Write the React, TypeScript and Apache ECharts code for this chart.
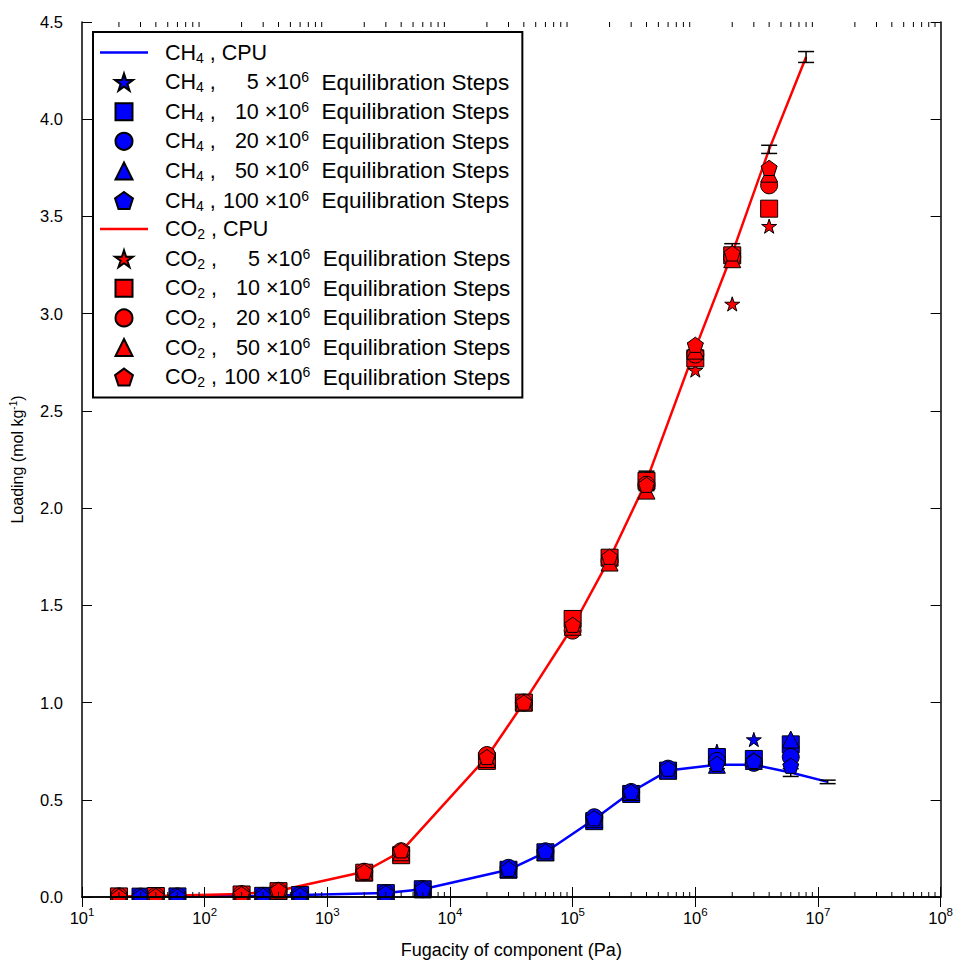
import React, { useEffect, useRef } from 'react';
import * as echarts from 'echarts';

const FONT = 'Liberation Sans';

// ---------- data ----------
const ch4Pressure = [30, 60, 300, 600, 3000, 6000, 30000, 60000, 150000, 300000, 600000, 1500000, 3000000, 6000000];
const ch4CpuPressure = [30, 60, 300, 600, 3000, 6000, 30000, 60000, 150000, 300000, 600000, 1500000, 3000000, 6000000, 12000000];
const ch4Cpu = [0.002, 0.003, 0.006, 0.01, 0.02, 0.04, 0.14, 0.23, 0.4, 0.54, 0.65, 0.68, 0.68, 0.64, 0.592];
const ch4CpuErr = [0.001, 0.001, 0.002, 0.002, 0.003, 0.004, 0.006, 0.008, 0.01, 0.012, 0.015, 0.02, 0.02, 0.02, 0.009];
const ch4Steps5 = [0.002, 0.003, 0.006, 0.01, 0.02, 0.04, 0.145, 0.235, 0.41, 0.54, 0.66, 0.75, 0.81, 0.76];
const ch4Steps10 = [0.002, 0.003, 0.006, 0.01, 0.02, 0.04, 0.14, 0.23, 0.39, 0.53, 0.65, 0.72, 0.71, 0.785];
const ch4Steps20 = [0.002, 0.003, 0.006, 0.01, 0.02, 0.04, 0.15, 0.235, 0.41, 0.54, 0.66, 0.7, 0.69, 0.72];
const ch4Steps50 = [0.002, 0.003, 0.006, 0.01, 0.02, 0.04, 0.145, 0.23, 0.4, 0.54, 0.65, 0.68, 0.7, 0.81];
const ch4Steps100 = [0.002, 0.003, 0.006, 0.01, 0.02, 0.04, 0.145, 0.235, 0.405, 0.54, 0.66, 0.685, 0.7, 0.675];

const co2Pressure = [20, 40, 200, 400, 2000, 4000, 20000, 40000, 100000, 200000, 400000, 1000000, 2000000, 4000000];
const co2CpuPressure = [20, 40, 200, 400, 2000, 4000, 20000, 40000, 100000, 200000, 400000, 1000000, 2000000, 4000000, 8000000];
const co2Cpu = [0.003, 0.005, 0.015, 0.032, 0.13, 0.235, 0.72, 1.0, 1.39, 1.74, 2.14, 2.82, 3.31, 3.845, 4.32];
const co2CpuErr = [0.001, 0.001, 0.002, 0.003, 0.005, 0.008, 0.015, 0.02, 0.025, 0.03, 0.05, 0.03, 0.05, 0.021, 0.028];
const co2Steps5 = [0.003, 0.005, 0.015, 0.032, 0.13, 0.235, 0.72, 1.0, 1.39, 1.75, 2.13, 2.71, 3.05, 3.45];
const co2Steps10 = [0.003, 0.005, 0.013, 0.03, 0.125, 0.215, 0.7, 1.0, 1.43, 1.745, 2.14, 2.77, 3.3, 3.54];
const co2Steps20 = [0.003, 0.005, 0.015, 0.032, 0.13, 0.235, 0.73, 1.0, 1.37, 1.73, 2.12, 2.79, 3.29, 3.66];
const co2Steps50 = [0.003, 0.005, 0.015, 0.032, 0.13, 0.23, 0.71, 1.0, 1.39, 1.72, 2.09, 2.81, 3.28, 3.72];
const co2Steps100 = [0.003, 0.005, 0.015, 0.035, 0.13, 0.24, 0.72, 1.0, 1.4, 1.75, 2.12, 2.84, 3.31, 3.75];

const stepLabels = ['5', '10', '20', '50', '100'];
const xDecades = [10, 100, 1000, 10000, 100000, 1000000, 10000000];
const minorMultipliers = [2, 3, 4, 5, 6, 7, 8, 9];

// ---------- styling ----------
const SYM_STAR = 'path://M10,0L12.245,6.91L19.511,6.91L13.633,11.18L15.878,18.09L10,13.82L4.122,18.09L6.367,11.18L0.489,6.91L7.755,6.91Z';
const SYM_SQUARE = 'path://M0,0L10,0L10,10L0,10Z';
const SYM_TRI = 'path://M5,0L10,10L0,10Z';
const SYM_PENT = 'path://M10,0L19.511,6.91L15.878,18.09L4.122,18.09L0.489,6.91Z';
const SYM_LINE = 'path://M0,0L48,0L48,2.5L0,2.5Z';
const symbols = [SYM_STAR, SYM_SQUARE, 'circle', SYM_TRI, SYM_PENT];
const symbolSizes = [15, 17, 17, 17, 16];

export default function App() {
  const ref = useRef<HTMLDivElement>(null);

  useEffect(() => {
    if (!ref.current) return;
    const chart = echarts.init(ref.current, null, { renderer: 'svg' });

    const gases = [
      { key: 'CH4', sub: '4', base: 'CH', color: '#0000ff', p: ch4Pressure, cpuP: ch4CpuPressure, cpu: ch4Cpu, err: ch4CpuErr,
        steps: [ch4Steps5, ch4Steps10, ch4Steps20, ch4Steps50, ch4Steps100] },
      { key: 'CO2', sub: '2', base: 'CO', color: '#ff0000', p: co2Pressure, cpuP: co2CpuPressure, cpu: co2Cpu, err: co2CpuErr,
        steps: [co2Steps5, co2Steps10, co2Steps20, co2Steps50, co2Steps100] },
    ];

    const minorTicks: number[][] = [];
    xDecades.forEach((d) => minorMultipliers.forEach((m) => minorTicks.push([d * m, 0])));

    const series: any[] = [];
    const legendData: any[] = [];
    const legendText: Record<string, string> = {};

    gases.forEach((g) => {
      const lineName = g.key + ' CPU';
      legendData.push({ name: lineName, icon: SYM_LINE, itemStyle: { color: g.color, borderWidth: 0 } });
      legendText[lineName] = `{t|${g.base}}{s|${g.sub}}{t| , CPU}`;
      series.push({
        name: lineName,
        type: 'line',
        data: g.cpuP.map((p, i) => [p, g.cpu[i]]),
        symbol: 'none',
        lineStyle: { color: g.color, width: 2.5 },
        itemStyle: { color: g.color },
        z: 2,
      });
      series.push({
        name: g.key + ' err',
        type: 'custom',
        data: g.cpuP.map((p, i) => [p, g.cpu[i], g.err[i]]),
        encode: { x: 0, y: 1 },
        z: 3,
        renderItem: (params: any, api: any) => {
          const x = api.value(0);
          const y = api.value(1);
          const e = api.value(2);
          const hi = api.coord([x, y + e]);
          const lo = api.coord([x, y - e]);
          const w = 8;
          const style = { stroke: '#000', lineWidth: 1.5 };
          return {
            type: 'group',
            children: [
              { type: 'line', shape: { x1: hi[0], y1: hi[1], x2: lo[0], y2: lo[1] }, style },
              { type: 'line', shape: { x1: hi[0] - w, y1: hi[1], x2: hi[0] + w, y2: hi[1] }, style },
              { type: 'line', shape: { x1: lo[0] - w, y1: lo[1], x2: lo[0] + w, y2: lo[1] }, style },
            ],
          };
        },
      });
      g.steps.forEach((vals, k) => {
        const nm = `${g.key} ${stepLabels[k]}`;
        legendData.push({ name: nm });
        const lbl = stepLabels[k];
        legendText[nm] = `{t|${g.base}}{s|${g.sub}}{t| ,}{n${lbl.length}|${lbl}}{t| ×10}{p|6}{e|  Equilibration Steps}`;
        series.push({
          name: nm,
          type: 'scatter',
          data: g.p.map((p, i) => [p, vals[i]]),
          symbol: symbols[k],
          symbolSize: symbolSizes[k],
          symbolKeepAspect: true,
          itemStyle: { color: g.color, borderColor: '#000', borderWidth: 1, opacity: 1 },
          z: 4,
        });
      });
    });

    series.push({
      name: 'minor ticks',
      type: 'custom',
      data: minorTicks,
      encode: { x: 0, y: 1 },
      z: 6,
      clip: false,
      renderItem: (params: any, api: any) => {
        const x = api.value(0);
        const b = api.coord([x, 0]);
        const t = api.coord([x, 4.5]);
        const style = { stroke: '#000', lineWidth: 1 };
        return {
          type: 'group',
          children: [
            { type: 'line', shape: { x1: b[0], y1: b[1], x2: b[0], y2: b[1] - 5 }, style },
            { type: 'line', shape: { x1: t[0], y1: t[1], x2: t[0], y2: t[1] + 5 }, style },
          ],
        };
      },
    });

    const axisLine = { show: true, lineStyle: { color: '#000', width: 1.5 } };
    const xCommon = {
      type: 'log',
      logBase: 10,
      min: 10,
      max: 100000000,
      splitNumber: 7,
      z: 10,
      splitLine: { show: false },
      axisLine,
      axisTick: { show: true, inside: true, length: 10, lineStyle: { color: '#000', width: 1 } },
    };
    const yCommon = {
      type: 'value',
      min: 0,
      max: 4.5,
      interval: 0.5,
      z: 10,
      splitLine: { show: false },
      axisLine,
      axisTick: { show: true, inside: true, length: 10, lineStyle: { color: '#000', width: 1 } },
    };

    const DIG = 11.95; // digit width at legend font size
    chart.setOption({
      animation: false,
      backgroundColor: '#fff',
      grid: { left: 82, right: 13, top: 22, bottom: 65, containLabel: false },
      graphic: [
        {
          type: 'rect',
          left: 70,
          top: 900,
          z: 5,
          shape: { width: 886, height: 8 },
          style: { fill: '#fff' },
          silent: true,
        },
      ],
      xAxis: [
        {
          ...xCommon,
          position: 'bottom',
          name: 'Fugacity of component (Pa)',
          nameLocation: 'middle',
          nameGap: 44,
          nameTextStyle: { fontFamily: FONT, fontSize: 18, color: '#000' },
          axisLabel: {
            margin: 9,
            formatter: (v: number) => `{b|10}{s|${Math.round(Math.log10(v))}}`,
            rich: {
              b: { fontFamily: FONT, fontSize: 16.5, color: '#000', lineHeight: 20, verticalAlign: 'bottom' },
              s: { fontFamily: FONT, fontSize: 11.5, color: '#000', lineHeight: 12, verticalAlign: 'top' },
            },
          },
        },
        { ...xCommon, position: 'top', axisLabel: { show: false } },
      ],
      yAxis: [
        {
          ...yCommon,
          position: 'left',
          name: '{a|Loading (mol kg}{s|-1}{a|)}',
          nameLocation: 'middle',
          nameGap: 56,
          nameTextStyle: {
            rich: {
              a: { fontFamily: FONT, fontSize: 16, color: '#000', lineHeight: 18 },
              s: { fontFamily: FONT, fontSize: 10, color: '#000', lineHeight: 12, verticalAlign: 'top' },
            },
          },
          axisLabel: {
            margin: 19,
            fontFamily: FONT,
            fontSize: 16.5,
            color: '#000',
            formatter: (v: number) => v.toFixed(1),
          },
        },
        { ...yCommon, position: 'right', axisLabel: { show: false } },
      ],
      legend: {
        show: true,
        orient: 'vertical',
        left: 93,
        top: 32,
        z: 20,
        data: legendData,
        selectedMode: false,
        itemWidth: 48,
        itemHeight: 17,
        itemGap: 5.6,
        padding: [9.5, 12, 8.5, 7],
        borderColor: '#000',
        borderWidth: 2,
        borderRadius: 0,
        backgroundColor: '#fff',
        symbolKeepAspect: true,
        formatter: (name: string) => legendText[name],
        textStyle: {
          padding: [0, 0, 0, 12],
          rich: {
            t: { fontFamily: FONT, fontSize: 21.5, lineHeight: 24, color: '#000' },
            e: { fontFamily: FONT, fontSize: 22.5, lineHeight: 24, color: '#000' },
            s: { fontFamily: FONT, fontSize: 14, lineHeight: 16, verticalAlign: 'bottom', color: '#000' },
            p: { fontFamily: FONT, fontSize: 14, lineHeight: 18, verticalAlign: 'top', color: '#000' },
            n1: { fontFamily: FONT, fontSize: 21.5, lineHeight: 24, color: '#000', padding: [0, 0, 0, 43 - DIG] },
            n2: { fontFamily: FONT, fontSize: 21.5, lineHeight: 24, color: '#000', padding: [0, 0, 0, 43 - 2 * DIG] },
            n3: { fontFamily: FONT, fontSize: 21.5, lineHeight: 24, color: '#000', padding: [0, 0, 0, 43 - 3 * DIG] },
          },
        },
      },
      series,
    });

    return () => chart.dispose();
  }, []);

  return <div ref={ref} style={{ position: 'fixed', left: 0, top: 0, width: 956, height: 964 }} />;
}
